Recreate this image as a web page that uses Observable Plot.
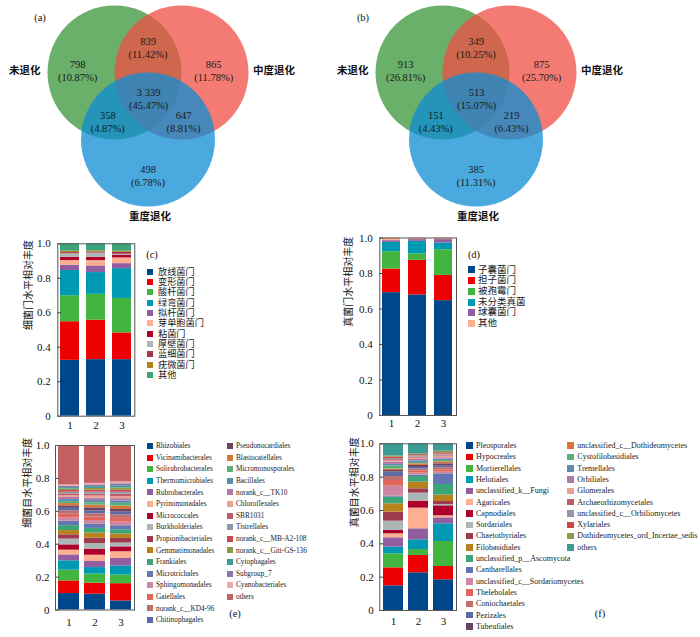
<!DOCTYPE html>
<html><head><meta charset="utf-8">
<script src="https://cdn.jsdelivr.net/npm/d3@7"></script>
<script src="https://cdn.jsdelivr.net/npm/@observablehq/plot@0.6"></script>
<style>
body{margin:0;background:#fff;}
#fig{position:relative;width:700px;height:637px;overflow:hidden;background:#fff;font-family:"Liberation Serif",serif;color:#111;}
.li{position:absolute;display:flex;align-items:center;white-space:nowrap;color:#222;overflow:visible;}
.li .tx{display:inline-block;overflow:visible;}
.pl{position:absolute;transform:translate(-50%,-50%);font-family:"Liberation Serif",serif;font-size:10.5px;line-height:12px;color:#111;white-space:nowrap;}
svg{position:absolute;overflow:visible;}
</style></head>
<body><div id="fig"></div>
<script>
// ---------- data ----------
const vennSets = ["未退化", "中度退化", "重度退化"];
const vennColors = ["#389438", "#F04F44", "#0E8CD3"];
// region order: only A, A&B, only B, A&B&C, A&C, B&C, only C
const bacteriaVennCounts = [798, 839, 865, 3339, 358, 647, 498];
const bacteriaVennPct = ["10.87%", "11.42%", "11.78%", "45.47%", "4.87%", "8.81%", "6.78%"];
const fungiVennCounts = [913, 349, 875, 513, 151, 219, 385];
const fungiVennPct = ["26.81%", "10.25%", "25.70%", "15.07%", "4.43%", "6.43%", "11.31%"];

const samples = ["1", "2", "3"];
const yTicks = [0, 0.2, 0.4, 0.6, 0.8, 1.0];

const palette = ["#00468B","#ED0000","#42B540","#0099B4","#925E9F","#FDAF91","#AD002A","#ADB6B6",
  "#9E3A4E","#B7811B","#3DA47A","#6176B2","#CF87A1","#E1665A","#BF6E6C","#5B6BA5","#6B4565",
  "#D97638","#5DB07A","#5D8DB3","#B07AA7","#EBA292","#BA5D66","#9197A8","#CB4549","#8A9B45",
  "#3D9B95","#8B76AF","#E8AAAA","#C26062"];

const bacPhyla = ["放线菌门","变形菌门","酸杆菌门","绿弯菌门","拟杆菌门","芽单胞菌门","粘菌门","厚壁菌门","蓝细菌门","疣微菌门","其他"];
const bacPhylaS1 = [0.324, 0.224, 0.151, 0.146, 0.031, 0.027, 0.019, 0.020, 0.007, 0.008, 0.043];
const bacPhylaS2 = [0.328, 0.229, 0.150, 0.126, 0.039, 0.031, 0.019, 0.024, 0.007, 0.006, 0.041];
const bacPhylaS3 = [0.328, 0.155, 0.200, 0.173, 0.029, 0.033, 0.016, 0.005, 0.011, 0.007, 0.043];

const funPhyla = ["子囊菌门","担子菌门","被孢霉门","未分类真菌","球囊菌门","其他"];
const funPhylaS1 = [0.692, 0.133, 0.098, 0.052, 0.010, 0.015];
const funPhylaS2 = [0.679, 0.195, 0.037, 0.070, 0.010, 0.009];
const funPhylaS3 = [0.647, 0.142, 0.145, 0.038, 0.019, 0.009];

const bacOrders = ["Rhizobiales","Vicinamibacterales","Solirubrobacterales","Thermomicrobiales","Rubrobacterales",
  "Pyrinomonadales","Micrococcales","Burkholderiales","Propionibacteriales","Gemmatimonadales","Frankiales",
  "Microtrichales","Sphingomonadales","Gaiellales","norank_c__KD4-96","Chitinophagales","Pseudonocardiales",
  "Blastocatellales","Micromonosporales","Bacillales","norank_c__TK10","Chloroflexales","SBR1031","Tistrellales",
  "norank_c__MB-A2-108","norank_c__Gitt-GS-136","Cytophagales","Subgroup_7","Cyanobacteriales","others"];
const bacOrdersS1 = [0.100,0.077,0.065,0.057,0.036,0.029,0.032,0.035,0.026,0.026,0.030,0.027,0.021,0.021,0.020,
  0.016,0.015,0.014,0.013,0.012,0.012,0.011,0.011,0.010,0.010,0.009,0.009,0.008,0.008,0.240];
const bacOrdersS2 = [0.096,0.067,0.055,0.040,0.037,0.038,0.037,0.034,0.033,0.031,0.028,0.026,0.022,0.021,0.020,
  0.018,0.018,0.016,0.015,0.014,0.014,0.013,0.012,0.012,0.011,0.011,0.011,0.010,0.010,0.230];
const bacOrdersS3 = [0.055,0.105,0.052,0.056,0.045,0.041,0.030,0.023,0.028,0.027,0.026,0.024,0.022,0.023,0.021,
  0.017,0.016,0.020,0.017,0.015,0.014,0.013,0.014,0.012,0.012,0.014,0.013,0.012,0.012,0.221];

const funOrders = ["Pleosporales","Hypocreales","Mortierellales","Helotiales","unclassified_k__Fungi","Agaricales",
  "Capnodiales","Sordariales","Chaetothyriales","Filobasidiales","unclassified_p__Ascomycota","Cantharellales",
  "unclassified_c__Sordariomycetes","Thelebolales","Coniochaetales","Pezizales","Tubeufiales",
  "unclassified_c__Dothideomycetes","Cystofilobasidiales","Tremellales","Orbiliales","Glomerales",
  "Archaeorhizomycetales","unclassified_c__Orbiliomycetes","Xylariales","Dothideomycetes_ord_Incertae_sedis","others"];
const funOrdersS1 = [0.148,0.108,0.084,0.040,0.056,0.024,0.020,0.056,0.054,0.050,0.040,0.006,0.060,0.034,0.024,
  0.026,0.010,0.008,0.020,0.008,0.015,0.006,0.008,0.006,0.010,0.006,0.073];
const funOrdersS2 = [0.226,0.104,0.036,0.058,0.066,0.124,0.042,0.048,0.026,0.040,0.034,0.008,0.012,0.014,0.010,
  0.010,0.012,0.010,0.008,0.010,0.008,0.008,0.007,0.007,0.007,0.005,0.060];
const funOrdersS3 = [0.184,0.080,0.150,0.106,0.036,0.012,0.060,0.008,0.018,0.038,0.064,0.064,0.010,0.014,0.012,
  0.010,0.014,0.012,0.008,0.008,0.008,0.010,0.006,0.006,0.008,0.010,0.044];

// ---------- layout (Venn geometry in circle-radius units) ----------
const circleLayout = [{set: vennSets[0], cx: -0.5, cy: 0}, {set: vennSets[1], cx: 0.5, cy: 0}, {set: vennSets[2], cx: 0, cy: 1.0}];
const regionLayout = [{x: -1.05, y: -0.03}, {x: 0, y: -0.373}, {x: 0.98, y: -0.03}, {x: 0.01, y: 0.39},
  {x: -0.6, y: 0.728}, {x: 0.53, y: 0.728}, {x: 0, y: 1.54}];
const setLabelLayout = [{x: -1.84, y: -0.03}, {x: 1.88, y: -0.03}, {x: 0.03, y: 2.15}];

const fig = document.getElementById("fig");
const fmtCount = d3.formatLocale({decimal: ".", thousands: " ", grouping: [3], currency: ["", ""]}).format(",");
const CJK = "Noto Sans CJK SC";
const CJK_LEGEND = "'Liberation Serif', 'Noto Sans CJK SC'";
const SERIF = "Liberation Serif";

function place(node, left, top) {
  node.style.left = left + "px";
  node.style.top = top + "px";
  fig.appendChild(node);
}

function venn(left, originX, counts, pcts) {
  const R = 67, W = 350, H = 230, oy = 72;
  const regions = regionLayout.map((r, i) => ({...r, label: fmtCount(counts[i]) + "\n(" + pcts[i] + ")"}));
  const labels = setLabelLayout.map((r, i) => ({...r, name: vennSets[i]}));
  const svg = Plot.plot({
    width: W, height: H, margin: 0,
    x: {domain: [-originX / R, (W - originX) / R], range: [0, W], axis: null},
    y: {domain: [-oy / R, (H - oy) / R], range: [0, H], axis: null},
    color: {domain: vennSets, range: vennColors},
    style: {background: "transparent"},
    marks: [
      Plot.dot(circleLayout, {x: "cx", y: "cy", r: R, fill: "set", fillOpacity: 0.75, stroke: "none"}),
      Plot.text(regions, {x: "x", y: "y", text: "label", fontFamily: SERIF, fontSize: 10.5, lineHeight: 1.22, fill: "#1a1a1a"}),
      Plot.text(labels, {x: "x", y: "y", text: "name", fontFamily: CJK, fontSize: 10.5, fontWeight: "bold", fill: "#111"})
    ]
  });
  place(svg, left, 0);
}

function stackChart({left, top, width, height, frame, names, series, colors, padIn, padOut, yLabel, yLabelDx, xPad, yPad}) {
  const [fx0, fy0, fx1, fy1] = frame;
  const data = [];
  names.forEach((n, i) => samples.forEach((s, j) => data.push({sample: s, taxon: n, value: series[j][i]})));
  const fw = fx1 - fx0;
  const svg = Plot.plot({
    width, height,
    marginLeft: fx0 - left, marginTop: fy0 - top, marginRight: left + width - fx1, marginBottom: top + height - fy1,
    style: {fontFamily: SERIF, fontSize: "11px", background: "transparent", color: "#111"},
    x: {type: "band", domain: samples, paddingInner: padIn, paddingOuter: padOut, axis: null},
    y: {domain: [0, 1], axis: null},
    color: {domain: names, range: colors},
    marks: [
      Plot.barY(data, {x: "sample", y: "value", fill: "taxon"}),
      Plot.ruleY(yTicks, {y: d => d, insetRight: fw - 4, stroke: "#444"}),
      Plot.frame({stroke: "#555"}),
      Plot.axisY(yTicks, {tickSize: 0, tickPadding: yPad, label: null, tickFormat: d => d === 0 ? "0" : d.toFixed(1)}),
      Plot.axisX(samples, {tickSize: 0, tickPadding: xPad, label: null}),
      Plot.text([yLabel], {text: d => d, frameAnchor: "left", rotate: -90, dx: yLabelDx, fontFamily: CJK, fontSize: 10, fill: "#111"})
    ]
  });
  place(svg, left, top);
}

function legend({x0, y0, step, sw, gap, names, colors, split, x1, fontSize, font}) {
  names.forEach((n, i) => {
    const col = (split != null && i >= split) ? 1 : 0;
    const row = col ? i - split : i;
    const div = document.createElement("div");
    div.className = "li";
    div.style.height = step + "px";
    div.style.lineHeight = step + "px";
    div.style.fontSize = fontSize + "px";
    div.style.fontFamily = font;
    const sq = document.createElement("span");
    sq.style.cssText = `display:inline-block;width:${sw}px;height:${sw}px;background:${colors[i]};margin-right:${gap}px;flex:none`;
    const tx = document.createElement("span");
    tx.className = "tx";
    tx.style.height = step + "px";
    tx.style.lineHeight = step + "px";
    tx.textContent = n;
    div.appendChild(sq);
    div.appendChild(tx);
    place(div, col ? x1 : x0, y0 + row * step - step / 2);
  });
}

function panelLabel(t, x, y) {
  const d = document.createElement("div");
  d.className = "pl";
  d.textContent = t;
  place(d, x, y);
}

// ---------- Venn diagrams ----------
venn(0, 147.5, bacteriaVennCounts, bacteriaVennPct);
venn(350, 125.5, fungiVennCounts, fungiVennPct);
panelLabel("(a)", 40, 18);
panelLabel("(b)", 363, 18);

// ---------- stacked bars ----------
const funOrderColors = palette.slice(0, funOrders.length - 1).concat([palette[26]]);
stackChart({left: 0, top: 228, width: 140, height: 210, frame: [57.3, 243.3, 134.3, 415.7],
  names: bacPhyla, series: [bacPhylaS1, bacPhylaS2, bacPhylaS3], colors: palette.slice(0, bacPhyla.length),
  padIn: 0.28, padOut: 0.1, yLabel: "细菌门水平相对丰度", yLabelDx: -29, xPad: 5, yPad: 7});
stackChart({left: 335, top: 225, width: 125, height: 210, frame: [379.3, 237.5, 456, 415],
  names: funPhyla, series: [funPhylaS1, funPhylaS2, funPhylaS3], colors: palette.slice(0, funPhyla.length),
  padIn: 0.29, padOut: 0.11, yLabel: "真菌门水平相对丰度", yLabelDx: -31, xPad: 4, yPad: 7});
stackChart({left: 0, top: 435, width: 140, height: 200, frame: [55, 445, 134, 609.5],
  names: bacOrders, series: [bacOrdersS1, bacOrdersS2, bacOrdersS3], colors: palette.slice(0, bacOrders.length),
  padIn: 0.2, padOut: 0.063, yLabel: "细菌目水平相对丰度", yLabelDx: -28, xPad: 8, yPad: 6});
stackChart({left: 335, top: 435, width: 125, height: 200, frame: [379.3, 443.3, 456, 610],
  names: funOrders, series: [funOrdersS1, funOrdersS2, funOrdersS3], colors: funOrderColors,
  padIn: 0.2, padOut: 0.113, yLabel: "真菌目水平相对丰度", yLabelDx: -25, xPad: 7, yPad: 6});

// ---------- legends ----------
legend({x0: 147, y0: 271.7, step: 10.35, sw: 6, gap: 5, names: bacPhyla, colors: palette.slice(0, bacPhyla.length), fontSize: 9.2, font: CJK_LEGEND});
legend({x0: 468, y0: 270, step: 10.7, sw: 7, gap: 3, names: funPhyla, colors: palette.slice(0, funPhyla.length), fontSize: 9.5, font: CJK_LEGEND});
legend({x0: 146.7, y0: 446, step: 11.6, sw: 6, gap: 3.3, names: bacOrders, colors: palette.slice(0, bacOrders.length),
  split: 16, x1: 226.7, fontSize: 7.3, font: SERIF});
legend({x0: 466, y0: 445.7, step: 11.3, sw: 6.5, gap: 3.5, names: funOrders, colors: funOrderColors,
  split: 17, x1: 567.3, fontSize: 8, font: SERIF});
panelLabel("(c)", 152, 255);
panelLabel("(d)", 474, 255);
panelLabel("(e)", 235, 614);
panelLabel("(f)", 600, 614);
</script></body></html>
